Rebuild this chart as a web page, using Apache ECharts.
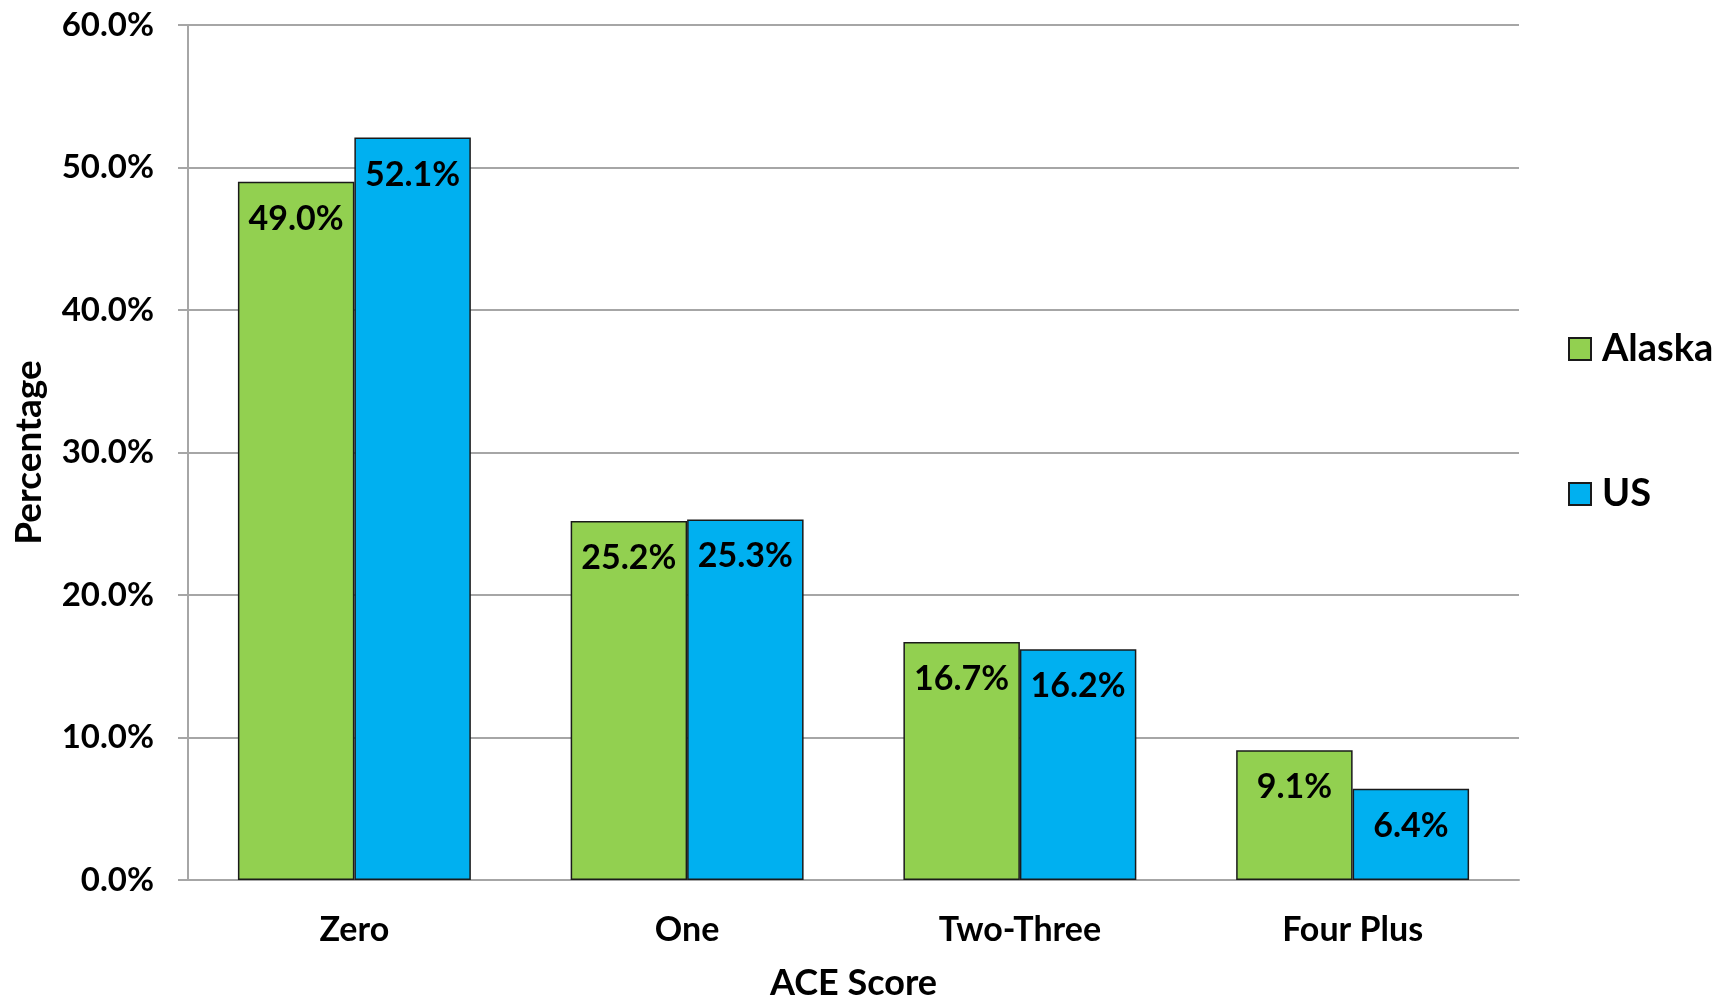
<!DOCTYPE html>
<html>
<head>
<meta charset="utf-8">
<script src="https://cdn.jsdelivr.net/npm/echarts@6/dist/echarts.min.js"></script>
<style>
html,body{margin:0;padding:0;background:#fff;}
#chart{width:1719px;height:996px;}
</style>
</head>
<body>
<div id="chart"></div>
<script>
const categories = ['Zero', 'One', 'Two-Three', 'Four Plus'];
const alaska = [49.0, 25.2, 16.7, 9.1];
const us = [52.1, 25.3, 16.2, 6.4];
const seriesNames = ['Alaska', 'US'];

const FONT = 'Lato, "Open Sans", sans-serif';
const chart = echarts.init(document.getElementById('chart'));
const labelCfg = {
  show: true, position: 'insideTop', distance: 20,
  formatter: p => p.value.toFixed(1) + '%',
  color: '#000', fontSize: 34, fontWeight: 'bold', fontFamily: FONT
};
chart.setOption({
  animation: false,
  textStyle: { fontFamily: FONT },
  grid: { left: 188, right: 200, top: 25, bottom: 116, containLabel: false, outerBoundsMode: 'none' },
  legend: {
    orient: 'vertical', left: 1563, top: 325,
    itemWidth: 22, itemHeight: 22, itemGap: 107,
    icon: 'rect',
    textStyle: { fontSize: 38, fontWeight: 'bold', color: '#000', fontFamily: FONT, padding: [0, 0, 0, 6] },
    data: seriesNames
  },
  xAxis: {
    type: 'category', data: categories,
    name: 'ACE Score', nameLocation: 'middle', nameGap: 85,
    nameTextStyle: { fontSize: 36, fontWeight: 'bold', color: '#000', fontFamily: FONT },
    axisLine: { lineStyle: { color: '#a6a6a6', width: 2 } },
    axisTick: { show: false },
    axisLabel: { margin: 33, fontSize: 34, fontWeight: 'bold', color: '#000', fontFamily: FONT }
  },
  yAxis: {
    type: 'value', min: 0, max: 60, interval: 10,
    name: 'Percentage', nameLocation: 'middle', nameGap: 140, nameRotate: 90,
    nameTextStyle: { fontSize: 37, fontWeight: 'bold', color: '#000', fontFamily: FONT },
    axisLine: { show: true, lineStyle: { color: '#a6a6a6', width: 2 } },
    axisTick: { show: true, length: 10, lineStyle: { color: '#a6a6a6', width: 2 } },
    splitLine: { lineStyle: { color: '#a6a6a6', width: 2 } },
    axisLabel: { margin: 34, fontSize: 33, fontWeight: 'bold', color: '#000', fontFamily: FONT,
      formatter: v => v.toFixed(1) + '%' }
  },
  series: [
    { name: seriesNames[0], type: 'bar', data: alaska, barGap: '0%', barCategoryGap: '30%',
      itemStyle: { color: '#92d050', borderColor: '#1a1a1a', borderWidth: 1.5 }, label: labelCfg },
    { name: seriesNames[1], type: 'bar', data: us, barGap: '0%', barCategoryGap: '30%',
      itemStyle: { color: '#00b0f0', borderColor: '#1a1a1a', borderWidth: 1.5 }, label: labelCfg }
  ]
});
</script>
</body>
</html>
